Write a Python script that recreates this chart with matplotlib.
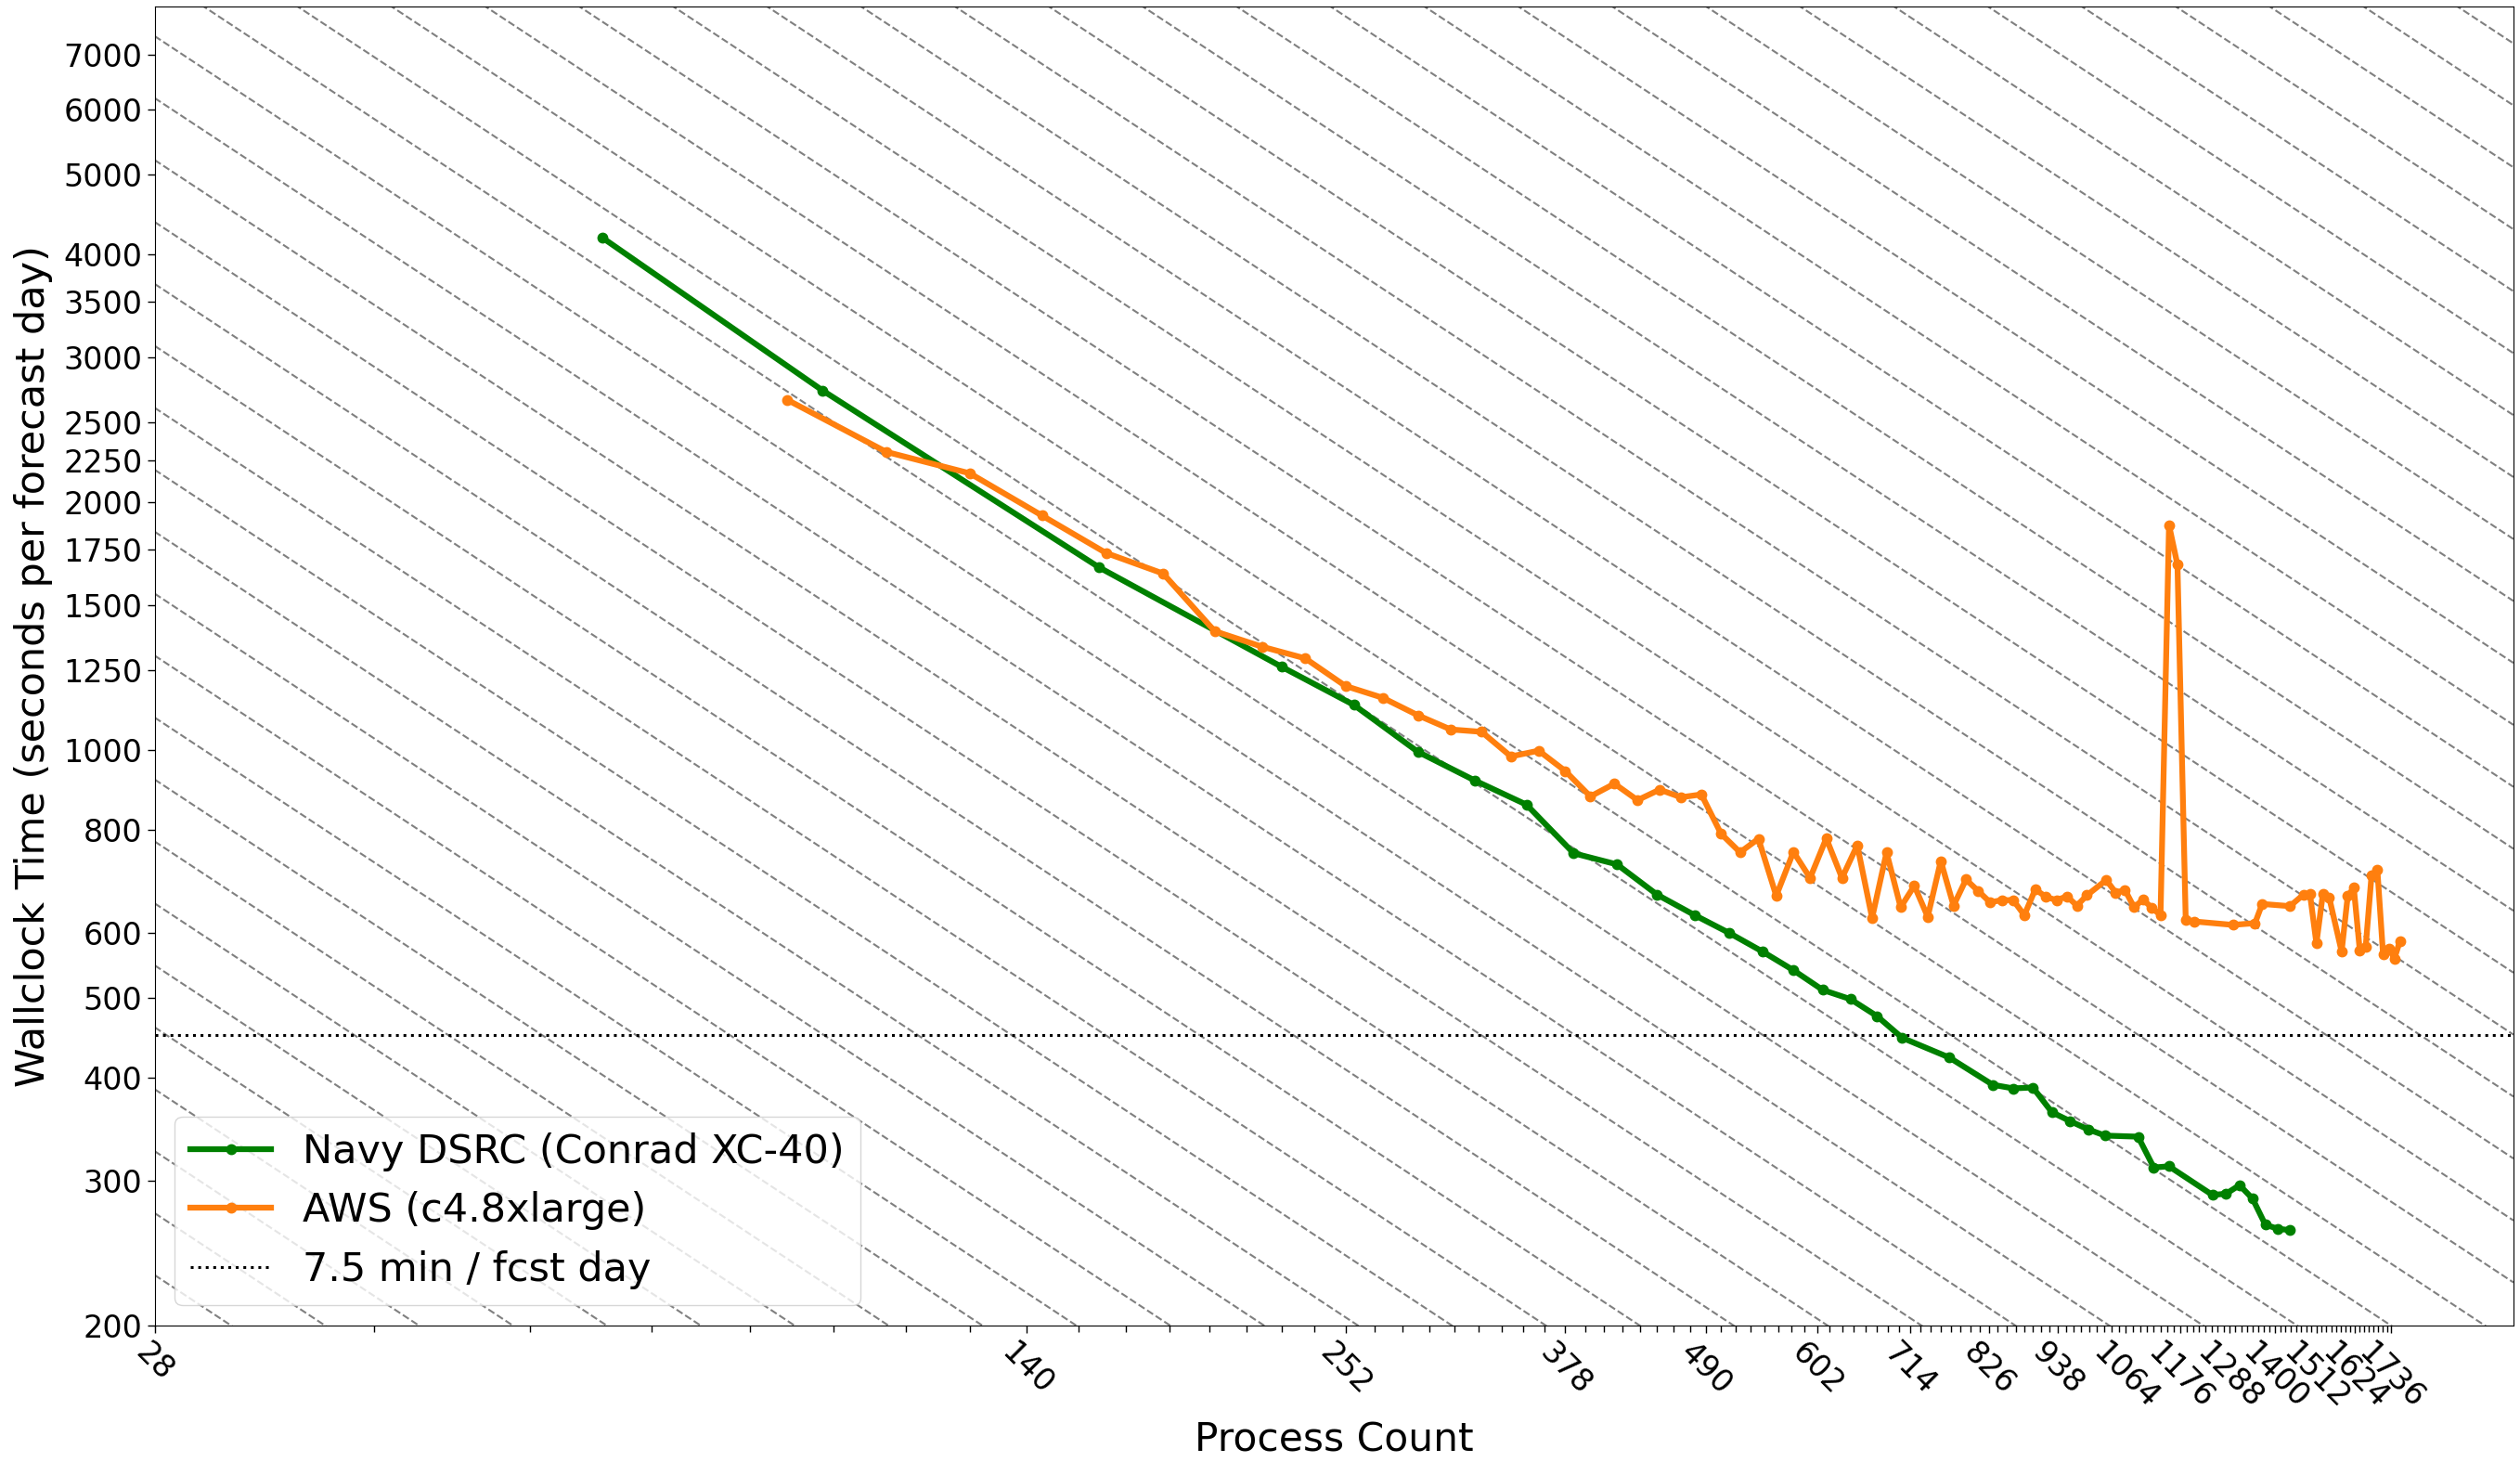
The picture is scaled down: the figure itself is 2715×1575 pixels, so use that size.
import numpy as np
import matplotlib
matplotlib.use("Agg")
import matplotlib.pyplot as plt
from matplotlib.ticker import FixedLocator, FixedFormatter, NullLocator, NullFormatter

# ---------------- data ----------------
navy_procs = [64, 96, 160, 224, 256, 288, 320, 352, 384, 416, 448, 480, 512, 544,
              576, 608, 640, 672, 704, 768, 832, 864, 896, 928, 960, 992, 1024,
              1088, 1120, 1152, 1248, 1280, 1312, 1344, 1376, 1408, 1440]
navy_times = [4188, 2734, 1666, 1262, 1134, 995, 918, 858, 749, 726, 667, 630, 599,
              569, 540, 511, 498, 475, 447, 423, 392, 388, 389, 363, 354, 346, 340,
              339, 311, 312, 288, 289, 296, 285, 265, 262, 261]

aws_procs = [90, 108, 126, 144, 162, 180, 198, 216, 234, 252, 270, 288, 306, 324,
             342, 360, 378, 396, 414, 432, 450, 468, 486, 504, 522, 540, 558, 576,
             594, 612, 630, 648, 666, 684, 702, 720, 738, 756, 774, 792, 810, 828,
             846, 864, 882, 900, 918, 936, 954, 972, 990, 1026, 1044, 1062, 1080,
             1098, 1116, 1134, 1152, 1170, 1188, 1206, 1296, 1350, 1368, 1440, 1476,
             1494, 1512, 1530, 1548, 1584, 1602, 1620, 1638, 1656, 1674, 1692, 1710,
             1728, 1746, 1764]
aws_times = [2662, 2302, 2168, 1926, 1735, 1638, 1394, 1335, 1292, 1196, 1157, 1102,
             1059, 1052, 982, 998, 943, 878, 910, 869, 895, 876, 883, 791, 751, 780,
             665, 752, 699, 781, 699, 766, 625, 751, 644, 684, 627, 733, 647, 696,
             674, 653, 657, 657, 630, 677, 663, 657, 664, 647, 666, 695, 671, 676,
             644, 658, 643, 630, 1875, 1679, 622, 619, 613, 616, 650, 646, 667, 669,
             582, 668, 662, 569, 665, 680, 571, 577, 705, 715, 564, 574, 558, 586]

target_seconds = 450  # 7.5 min / fcst day

x_major_ticks = [28, 140, 252, 378, 490, 602, 714, 826, 938, 1064, 1176, 1288,
                 1400, 1512, 1624, 1736]
x_minor_ticks = [v for v in range(28, 1737, 14) if v not in x_major_ticks]
y_ticks = [200, 300, 400, 500, 600, 800, 1000, 1250, 1500, 1750, 2000, 2250,
           2500, 3000, 3500, 4000, 5000, 6000, 7000]

# ideal-scaling reference lines: time = C / procs, C spaced by 2**(1/4)
ideal_base = 6444.0
ideal_steps = list(range(-4, 52))

# ---------------- plot ----------------
fig = plt.figure(figsize=(27.15, 15.75), dpi=100)
ax = fig.add_axes([0.0614, 0.0935, 0.936, 0.902])

xlim = (28, 2175)
ylim = (200, 8000)

xs = np.array(xlim, dtype=float)
for k in ideal_steps:
    c = ideal_base * 2 ** (k / 4.0)
    ax.plot(xs, c / xs, linestyle='--', color='gray', linewidth=1.5, zorder=1)

ax.plot(navy_procs, navy_times, color='green', marker='o', markersize=7.5,
        linewidth=4.5, label='Navy DSRC (Conrad XC-40)', zorder=3)
ax.plot(aws_procs, aws_times, color='#ff7f0e', marker='o', markersize=7.5,
        linewidth=4.5, label='AWS (c4.8xlarge)', zorder=3)
ax.axhline(target_seconds, color='black', linestyle=':', linewidth=2.2,
           label='7.5 min / fcst day', zorder=2)

ax.set_xscale('log')
ax.set_yscale('log')
ax.set_xlim(*xlim)
ax.set_ylim(*ylim)

ax.xaxis.set_major_locator(FixedLocator(x_major_ticks))
ax.xaxis.set_major_formatter(FixedFormatter([str(v) for v in x_major_ticks]))
ax.xaxis.set_minor_locator(FixedLocator(x_minor_ticks))
ax.xaxis.set_minor_formatter(NullFormatter())

ax.yaxis.set_major_locator(FixedLocator(y_ticks))
ax.yaxis.set_major_formatter(FixedFormatter([str(v) for v in y_ticks]))
ax.yaxis.set_minor_locator(NullLocator())

ax.tick_params(axis='both', which='major', labelsize=24, length=6, width=1)
ax.tick_params(axis='x', which='minor', length=5, width=1)
for lbl in ax.get_xticklabels():
    lbl.set_rotation(-45)

ax.set_xlabel('Process Count', fontsize=30.5, labelpad=4)
ax.set_ylabel('Wallclock Time (seconds per forecast day)', fontsize=31, labelpad=8)

ax.legend(loc='lower left', fontsize=31, numpoints=1, borderaxespad=0.5)

fig.savefig('out.png', dpi=100)
